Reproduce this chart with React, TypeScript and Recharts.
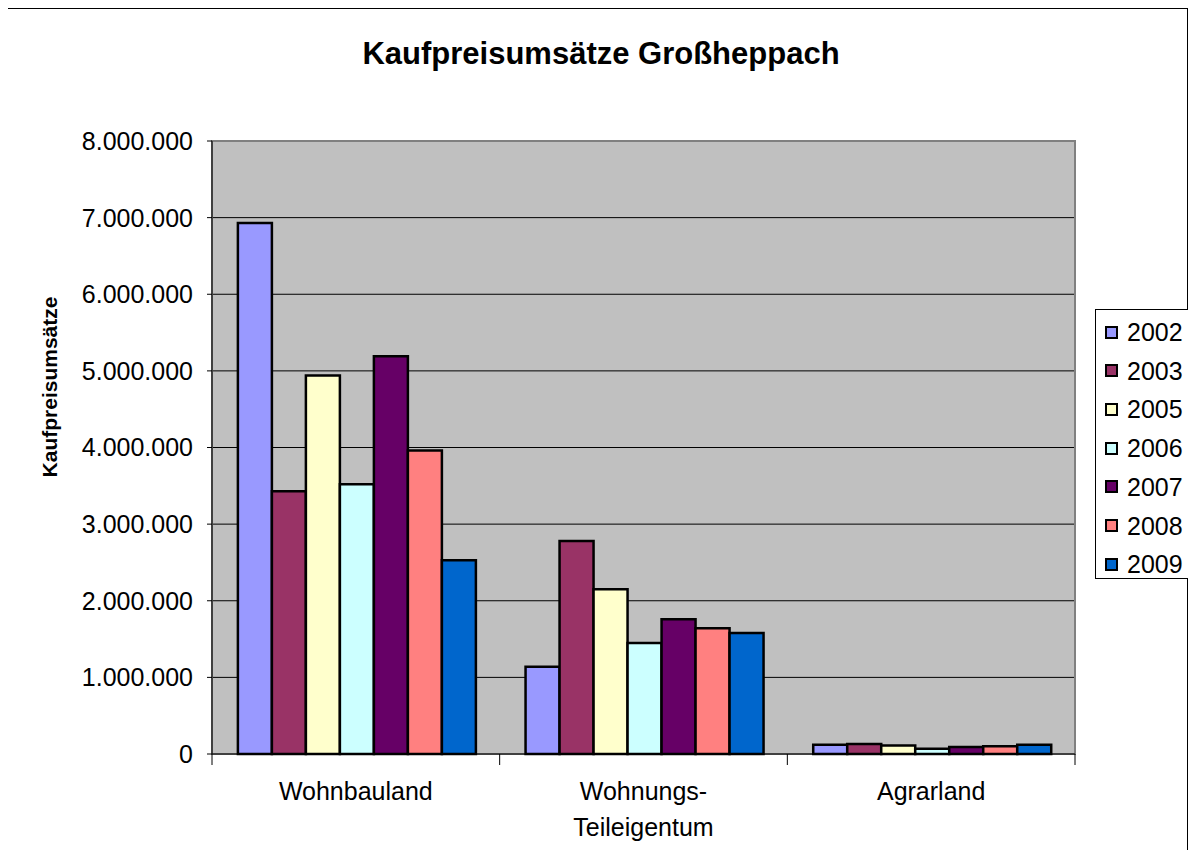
import React from 'react';
import { BarChart, Bar, XAxis, YAxis, CartesianGrid, ReferenceArea } from 'recharts';

const categories = ['Wohnbauland', 'Wohnungs-\nTeileigentum', 'Agrarland'];
const years = ['2002', '2003', '2005', '2006', '2007', '2008', '2009'];
const colors = ['#9999FF', '#993366', '#FFFFCC', '#CCFFFF', '#660066', '#FF8080', '#0066CC'];

const v2002 = [6930000, 1140000, 120000];
const v2003 = [3430000, 2780000, 130000];
const v2005 = [4940000, 2150000, 110000];
const v2006 = [3520000, 1450000, 70000];
const v2007 = [5190000, 1760000, 90000];
const v2008 = [3960000, 1640000, 100000];
const v2009 = [2530000, 1580000, 120000];

const yTicks = [0, 1000000, 2000000, 3000000, 4000000, 5000000, 6000000, 7000000, 8000000];

const seriesValues = [v2002, v2003, v2005, v2006, v2007, v2008, v2009];

const data = categories.map((c, i) => {
  const row: Record<string, any> = { name: c };
  years.forEach((y, j) => {
    row[y] = seriesValues[j][i];
  });
  return row;
});

const FONT = '"Liberation Sans", Arial, sans-serif';

const fmt = (v: number) => String(v).replace(/\B(?=(\d{3})+(?!\d))/g, '.');

const CatTick = (props: any) => {
  const { x, y, payload, index } = props;
  const half = payload && payload.offset ? payload.offset : 863 / 6;
  const lines = String(payload.value).split('\n');
  return (
    <g>
      <line x1={x - half} y1={y - 8} x2={x - half} y2={y + 3} stroke="#000" strokeWidth={1} />
      {index === categories.length - 1 && (
        <line x1={x + half} y1={y - 8} x2={x + half} y2={y + 3} stroke="#000" strokeWidth={1} />
      )}
      {lines.map((l, i) => (
        <text key={i} x={x} y={y + 38 + i * 36} textAnchor="middle" fontFamily={FONT} fontSize={25} fill="#000">
          {l}
        </text>
      ))}
    </g>
  );
};

export default function App() {
  return (
    <div style={{ position: 'relative', width: 1196, height: 858, margin: -8, overflow: 'hidden', background: '#fff' }}>
      <style>{`html,body{overflow:hidden;}`}</style>
      <div
        style={{
          position: 'absolute',
          left: 7,
          top: 8,
          width: 1181,
          height: 900,
          border: '1px solid #000',
          boxSizing: 'border-box',
        }}
      />
      <div
        style={{
          position: 'absolute',
          left: 0,
          width: 1202,
          top: 38,
          textAlign: 'center',
          fontFamily: FONT,
          fontWeight: 'bold',
          fontSize: 31,
          lineHeight: '31px',
          color: '#000',
        }}
      >
        Kaufpreisumsätze Großheppach
      </div>
      <div
        style={{
          position: 'absolute',
          left: 50 - 150,
          top: 387 - 12,
          width: 300,
          height: 24,
          lineHeight: '24px',
          textAlign: 'center',
          transform: 'rotate(-90deg)',
          fontFamily: FONT,
          fontWeight: 'bold',
          fontSize: 21,
          color: '#000',
        }}
      >
        Kaufpreisumsätze
      </div>
      <div style={{ position: 'absolute', left: 0, top: 0 }}>
        <BarChart
          width={1196}
          height={858}
          data={data}
          margin={{ top: 141, right: 121, bottom: 0, left: 0 }}
          barCategoryGap="9%"
          barGap={0}
        >
          <CartesianGrid vertical={false} stroke="#000" strokeOpacity={1} fill="#C0C0C0" fillOpacity={1} />
          <ReferenceArea y1={0} y2={8000000} fill="none" stroke="#808080" strokeWidth={2} ifOverflow="visible" />
          <XAxis
            dataKey="name"
            axisLine={{ stroke: '#000', strokeWidth: 1 }}
            tickLine={false}
            tick={<CatTick />}
            interval={0}
            height={104}
          />
          <YAxis
            width={212}
            domain={[0, 8000000]}
            ticks={yTicks}
            interval={0}
            tickFormatter={fmt}
            axisLine={{ stroke: '#000', strokeWidth: 1 }}
            tickLine={{ stroke: '#000' }}
            tickSize={5}
            tickMargin={14}
            tick={{ fontFamily: FONT, fontSize: 25, fill: '#000' }}
          />
          {years.map((y, i) => (
            <Bar key={y} dataKey={y} fill={colors[i]} stroke="#000" strokeWidth={2.5} isAnimationActive={false} />
          ))}
        </BarChart>
      </div>
      <div
        style={{
          position: 'absolute',
          left: 1095,
          top: 309,
          width: 97,
          height: 270,
          border: '1px solid #000',
          boxSizing: 'border-box',
          background: '#fff',
          fontFamily: FONT,
        }}
      >
        {years.map((y, i) => (
          <div
            key={y}
            style={{
              position: 'absolute',
              left: 9,
              top: 331 - 309 - 14 + i * 38.7,
              height: 28,
              display: 'flex',
              alignItems: 'center',
            }}
          >
            <div
              style={{
                width: 13,
                height: 13,
                background: colors[i],
                border: '2px solid #000',
                boxSizing: 'border-box',
              }}
            />
            <span style={{ marginLeft: 9, fontSize: 25, lineHeight: '28px', color: '#000' }}>{y}</span>
          </div>
        ))}
      </div>
    </div>
  );
}
